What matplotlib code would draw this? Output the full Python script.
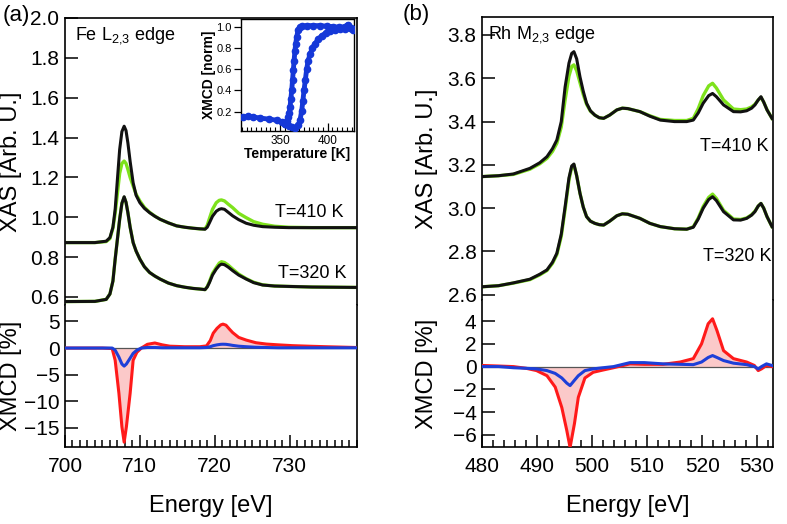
import matplotlib
matplotlib.use('Agg')
import matplotlib.pyplot as plt
from matplotlib.ticker import MultipleLocator

plt.rcParams['font.family'] = ['Liberation Sans', 'DejaVu Sans']
plt.rcParams['mathtext.default'] = 'regular'

# ============================================================================
# DATA - Fe L2,3 edge (panel a)
# ============================================================================
E_FE = [700, 704, 705.5, 706.0, 706.4, 706.7, 707.0, 707.3, 707.6, 707.9, 708.15,
        708.4, 708.7, 709.1, 709.5, 710.0, 710.6, 711.3, 712.0, 712.7, 713.8, 714.9,
        716.0, 717.1, 718.0, 718.7, 719.0, 719.3, 719.7, 720.2, 720.6, 720.9, 721.3,
        721.8, 722.4, 723.2, 724.2, 725.2, 726.4, 728.0, 729.9, 733, 739]

FE_410_BLACK = [0.873, 0.873, 0.880, 0.898, 0.950, 1.040, 1.190, 1.340, 1.430, 1.457, 1.435,
                1.373, 1.280, 1.173, 1.110, 1.073, 1.045, 1.023, 1.005, 0.990, 0.972, 0.957,
                0.950, 0.945, 0.942, 0.940, 0.950, 0.973, 1.005, 1.030, 1.040, 1.043, 1.040,
                1.025, 1.007, 0.988, 0.970, 0.960, 0.953, 0.950, 0.948, 0.948, 0.948]
FE_410_GREEN = [0.873, 0.873, 0.878, 0.893, 0.945, 1.020, 1.120, 1.220, 1.270, 1.282, 1.270,
                1.240, 1.200, 1.157, 1.115, 1.082, 1.050, 1.025, 1.006, 0.990, 0.972, 0.957,
                0.950, 0.945, 0.942, 0.942, 0.960, 0.995, 1.040, 1.073, 1.085, 1.087, 1.082,
                1.066, 1.048, 1.020, 0.998, 0.978, 0.965, 0.955, 0.950, 0.948, 0.948]
FE_320_BLACK = [0.577, 0.578, 0.588, 0.615, 0.680, 0.790, 0.890, 0.990, 1.070, 1.103, 1.075,
                1.023, 0.950, 0.873, 0.830, 0.790, 0.752, 0.723, 0.705, 0.690, 0.670, 0.657,
                0.649, 0.643, 0.640, 0.637, 0.650, 0.673, 0.710, 0.740, 0.758, 0.765, 0.762,
                0.750, 0.732, 0.710, 0.690, 0.672, 0.660, 0.655, 0.653, 0.650, 0.648]
FE_320_GREEN = [0.577, 0.578, 0.588, 0.615, 0.680, 0.790, 0.890, 0.990, 1.070, 1.100, 1.075,
                1.023, 0.950, 0.873, 0.830, 0.790, 0.752, 0.723, 0.705, 0.690, 0.670, 0.657,
                0.649, 0.643, 0.640, 0.637, 0.652, 0.678, 0.718, 0.748, 0.770, 0.777, 0.773,
                0.760, 0.740, 0.715, 0.692, 0.674, 0.661, 0.655, 0.653, 0.650, 0.648]

E_FE_XMCD = [700, 705, 706.3, 706.7, 707.2, 707.6, 707.9, 708.2, 708.7, 709.1, 709.6,
             710.2, 711.0, 712.0, 713.0, 714.0, 716.0, 718.0, 718.9, 719.4, 719.8, 720.3,
             720.8, 721.1, 721.5, 722.0, 722.4, 723.2, 724.2, 725.5, 726.9, 728.5, 730.4,
             732.5, 734.9, 739]
FE_XMCD_RED = [0.0, 0.0, -0.1, -2.3, -8.5, -14.8, -17.7, -14.8, -8.5, -2.3, -0.8,
               0.0, 0.7, 0.95, 0.6, 0.35, 0.25, 0.25, 0.4, 1.4, 2.8, 3.7,
               4.35, 4.5, 4.3, 3.5, 2.9, 2.0, 1.5, 1.0, 0.75, 0.6, 0.45,
               0.35, 0.25, 0.1]
FE_XMCD_BLUE = [0.0, 0.0, 0.0, -0.4, -1.7, -3.0, -3.4, -3.0, -1.9, -1.0, -0.4,
                0.0, 0.1, 0.1, 0.05, 0.05, 0.05, 0.05, 0.1, 0.25, 0.45, 0.6,
                0.7, 0.72, 0.7, 0.6, 0.5, 0.35, 0.25, 0.15, 0.1, 0.05, 0.05,
                0.05, 0.05, 0.05]

# ============================================================================
# DATA - Rh M2,3 edge (panel b)
# ============================================================================
E_RH = [480, 483, 485.7, 488.7, 490.5, 491.8, 492.8, 493.6, 494.4, 495.1, 495.8, 496.3,
        496.7, 497.2, 497.8, 498.4, 499.0, 499.7, 500.5, 501.3, 502.1, 503.2, 504.5,
        505.5, 506.5, 508.7, 510.5, 512.4, 515, 517.2, 518.4, 519.3, 520.2, 521.2,
        521.9, 522.6, 523.9, 525.7, 527, 528.1, 529.0, 529.6, 530.2, 530.7, 531.2,
        531.8, 532.7]

RH_410_BLACK = [3.146, 3.150, 3.158, 3.184, 3.210, 3.238, 3.275, 3.315, 3.400, 3.560, 3.670, 3.715,
                3.723, 3.690, 3.607, 3.540, 3.485, 3.450, 3.430, 3.418, 3.415, 3.430, 3.454,
                3.462, 3.460, 3.446, 3.425, 3.407, 3.400, 3.400, 3.407, 3.440, 3.485, 3.520,
                3.530, 3.515, 3.477, 3.446, 3.445, 3.450, 3.462, 3.477, 3.500, 3.515, 3.490,
                3.454, 3.415]
RH_410_GREEN = [3.146, 3.150, 3.156, 3.180, 3.205, 3.230, 3.262, 3.300, 3.375, 3.500, 3.610, 3.655,
                3.662, 3.635, 3.580, 3.525, 3.480, 3.448, 3.430, 3.418, 3.415, 3.430, 3.454,
                3.462, 3.460, 3.446, 3.427, 3.410, 3.405, 3.405, 3.415, 3.460, 3.520, 3.565,
                3.577, 3.555, 3.500, 3.458, 3.455, 3.458, 3.468, 3.480, 3.500, 3.512, 3.490,
                3.455, 3.415]
RH_320_BLACK = [2.637, 2.642, 2.655, 2.672, 2.695, 2.715, 2.750, 2.792, 2.880, 3.007, 3.140, 3.195,
                3.204, 3.150, 3.069, 3.005, 2.961, 2.940, 2.930, 2.924, 2.922, 2.940, 2.965,
                2.974, 2.972, 2.953, 2.930, 2.915, 2.905, 2.903, 2.912, 2.950, 3.000, 3.040,
                3.053, 3.035, 2.984, 2.946, 2.945, 2.953, 2.968, 2.984, 3.010, 3.022, 3.000,
                2.961, 2.915]
RH_320_GREEN = [2.637, 2.642, 2.654, 2.670, 2.692, 2.712, 2.745, 2.786, 2.870, 2.995, 3.130, 3.190,
                3.200, 3.150, 3.069, 3.005, 2.961, 2.940, 2.930, 2.924, 2.922, 2.940, 2.965,
                2.974, 2.972, 2.953, 2.930, 2.915, 2.905, 2.903, 2.914, 2.955, 3.008, 3.050,
                3.065, 3.045, 2.990, 2.950, 2.948, 2.955, 2.970, 2.986, 3.010, 3.022, 3.000,
                2.961, 2.915]

E_RH_XMCD = [480, 483, 485.7, 488, 489.9, 491.8, 493.3, 494.5, 495.4, 496.0, 496.8, 497.5,
             498.7, 500.2, 502, 503.9, 506.9, 509.5, 512.9, 516.0, 518.4, 519.9, 521.1,
             521.9, 522.7, 523.9, 525.7, 528.1, 529.5, 530.2, 530.8, 531.7, 532.7]
RH_XMCD_RED = [0.1, 0.05, 0.0, -0.15, -0.35, -0.8, -1.8, -3.6, -5.6, -7.1, -5.0, -2.7,
               -1.0, -0.5, -0.3, -0.1, 0.24, 0.2, 0.2, 0.4, 0.7, 2.0, 3.76,
               4.2, 3.17, 1.4, 0.7, 0.4, 0.1, -0.35, -0.2, 0.1, 0.0]
RH_XMCD_BLUE = [0.0, 0.0, -0.1, -0.15, -0.2, -0.35, -0.6, -1.0, -1.45, -1.67, -1.2, -0.8,
                -0.35, -0.2, -0.1, 0.0, 0.35, 0.35, 0.24, 0.2, 0.17, 0.4, 0.8,
                0.97, 0.8, 0.53, 0.3, 0.17, 0.0, -0.2, 0.0, 0.24, 0.1]

# ============================================================================
# DATA - inset hysteresis (XMCD vs temperature)
# ============================================================================
T_HEAT = [311.5, 316, 322, 329, 338, 346.5, 352, 355.2, 359, 362.3, 366, 369.2, 371,
          372.8, 374, 375.2, 376.6, 378, 379.5, 381.5, 384, 386.7, 390, 393.8, 398,
          402.5, 408, 413, 418, 423.5, 427]
XMCD_HEAT = [0.15, 0.155, 0.15, 0.14, 0.13, 0.12, 0.10, 0.084, 0.065, 0.053, 0.05, 0.07, 0.12,
             0.21, 0.30, 0.40, 0.50, 0.60, 0.68, 0.74, 0.80, 0.84, 0.88, 0.915, 0.94,
             0.96, 0.97, 0.98, 0.98, 0.985, 0.98]
T_COOL = [427, 424, 421, 418, 412, 406, 399, 392, 385, 378, 373, 371, 369, 367.5, 366.5,
          365.7, 364.8, 364, 363.2, 362.3, 361.4, 360.5, 359.6, 358.7, 357, 355]
XMCD_COOL = [0.97, 0.99, 1.02, 1.0, 0.995, 1.0, 1.005, 1.01, 1.01, 1.01, 1.005, 0.995, 0.97,
             0.90, 0.84, 0.775, 0.68, 0.59, 0.50, 0.40, 0.32, 0.24, 0.19, 0.15, 0.11, 0.085]

# ============================================================================
# COLOURS
# ============================================================================
C_BLACK = '#111111'
C_GREEN = '#7ee21c'
C_RED = '#ff1a1a'
C_BLUE = '#1d3fd8'
C_FILL = '#fbc9c9'
C_INSET = '#1538d8'

FS_TICK = 15
FS_LABEL = 17
FS_NOTE = 13

fig = plt.figure(figsize=(7.87, 5.24), dpi=100)


def style_axis(ax):
    for s in ax.spines.values():
        s.set_linewidth(1.2)
        s.set_color('black')
    ax.tick_params(axis='both', direction='in', labelsize=FS_TICK, width=1.1, colors='black')
    ax.tick_params(axis='y', length=9, pad=4)


def draw_panel(xas_rect, mcd_rect, xlim, xas_ylim, mcd_ylim, E, curves, E_x, red, blue,
               xas_ticks, mcd_ticks, xmajor, xminor, label_x):
    ax_x = fig.add_axes(xas_rect)
    ax_m = fig.add_axes(mcd_rect)

    for (g, b) in curves:
        ax_x.plot(E, g, color=C_GREEN, lw=2.4, zorder=2)
        ax_x.plot(E, b, color=C_BLACK, lw=2.2, zorder=3)
    ax_x.set_xlim(*xlim)
    ax_x.set_ylim(*xas_ylim)
    ax_x.set_yticks(xas_ticks)
    ax_x.set_yticklabels(['%.1f' % t for t in xas_ticks])
    style_axis(ax_x)
    ax_x.spines['bottom'].set_visible(False)
    ax_x.tick_params(axis='x', bottom=False, labelbottom=False)

    ax_m.fill_between(E_x, red, 0, color=C_FILL, lw=0, zorder=1)
    ax_m.axhline(0, color='#555555', lw=0.9, zorder=2)
    ax_m.plot(E_x, red, color=C_RED, lw=2.2, zorder=3)
    ax_m.plot(E_x, blue, color=C_BLUE, lw=2.2, zorder=4)
    ax_m.set_xlim(*xlim)
    ax_m.set_ylim(*mcd_ylim)
    ax_m.set_yticks(mcd_ticks)
    style_axis(ax_m)
    ax_m.spines['top'].set_visible(False)
    ax_m.xaxis.set_major_locator(MultipleLocator(xmajor))
    ax_m.xaxis.set_minor_locator(MultipleLocator(xminor))
    ax_m.tick_params(axis='x', which='major', length=9, pad=7)
    ax_m.tick_params(axis='x', which='minor', direction='in', length=5, width=1.1)
    ax_m.set_xlabel('Energy [eV]', fontsize=FS_LABEL, labelpad=14)

    ax_x.set_ylabel('XAS [Arb. U.]', fontsize=FS_LABEL)
    ax_m.set_ylabel('XMCD [%]', fontsize=FS_LABEL)
    ax_x.yaxis.set_label_coords(label_x, 0.5)
    ax_m.yaxis.set_label_coords(label_x, 0.5)
    return ax_x, ax_m


# ============================================================================
# PANEL (a) - Fe
# ============================================================================
ax1, ax1m = draw_panel([0.0826, 0.418, 0.371, 0.5477], [0.0826, 0.147, 0.371, 0.271],
                       (700, 739), (0.56, 2.0), (-18.6, 8.1),
                       E_FE, [(FE_410_GREEN, FE_410_BLACK), (FE_320_GREEN, FE_320_BLACK)],
                       E_FE_XMCD, FE_XMCD_RED, FE_XMCD_BLUE,
                       [0.6, 0.8, 1.0, 1.2, 1.4, 1.6, 1.8, 2.0], [-15, -10, -5, 0, 5], 10, 1,
                       -0.148)
ax1.text(0.034, 0.975, r'Fe L$_{2{,}3}$ edge', transform=ax1.transAxes, fontsize=FS_NOTE,
         ha='left', va='top')
ax1.text(737.2, 1.025, 'T=410 K', fontsize=FS_NOTE, ha='right', va='center')
ax1.text(737.6, 0.7175, 'T=320 K', fontsize=FS_NOTE, ha='right', va='center')
fig.text(0.003, 0.971, '(a)', fontsize=16, ha='left', va='center')

# ============================================================================
# PANEL (b) - Rh
# ============================================================================
ax2, ax2m = draw_panel([0.6125, 0.4275, 0.3698, 0.540], [0.6125, 0.147, 0.3698, 0.2805],
                       (480, 532.9), (2.576, 3.883), (-7.06, 5.85),
                       E_RH, [(RH_410_GREEN, RH_410_BLACK), (RH_320_GREEN, RH_320_BLACK)],
                       E_RH_XMCD, RH_XMCD_RED, RH_XMCD_BLUE,
                       [2.6, 2.8, 3.0, 3.2, 3.4, 3.6, 3.8], [-6, -4, -2, 0, 2, 4], 10, 2,
                       -0.152)
ax2.text(0.02, 0.975, r'Rh M$_{2{,}3}$ edge', transform=ax2.transAxes, fontsize=FS_NOTE,
         ha='left', va='top')
ax2.text(532.0, 3.284, 'T=410 K', fontsize=FS_NOTE, ha='right', va='center')
ax2.text(532.6, 2.776, 'T=320 K', fontsize=FS_NOTE, ha='right', va='center')
fig.text(0.512, 0.973, '(b)', fontsize=16, ha='left', va='center')

# ============================================================================
# INSET - hysteresis
# ============================================================================
axi = fig.add_axes([0.3058, 0.7494, 0.144, 0.2143])
axi.plot(T_HEAT, XMCD_HEAT, color=C_INSET, lw=3.5, marker='o', ms=4.5, zorder=3)
axi.plot(T_COOL, XMCD_COOL, color=C_INSET, lw=3.5, marker='o', ms=4.5, zorder=3)
axi.set_xlim(308.8, 427.6)
axi.set_ylim(0.015, 1.072)
axi.set_yticks([0.2, 0.4, 0.6, 0.8, 1.0])
axi.set_yticklabels(['0.2', '0.4', '0.6', '0.8', '1.0'])
axi.xaxis.set_major_locator(MultipleLocator(50))
axi.xaxis.set_minor_locator(MultipleLocator(5))
for s in axi.spines.values():
    s.set_linewidth(1.0)
axi.tick_params(axis='y', direction='out', length=5, width=0.9, labelsize=8, pad=1.5)
axi.tick_params(axis='x', which='major', direction='in', length=6, width=0.9, labelsize=8.5, pad=3)
axi.tick_params(axis='x', which='minor', direction='in', length=3, width=0.8)
axi.set_xlabel('Temperature [K]', fontsize=10, fontweight='bold', labelpad=0)
axi.set_ylabel('XMCD [norm]', fontsize=10, fontweight='bold', labelpad=0)

fig.savefig('out.png', dpi=100, facecolor='white')
